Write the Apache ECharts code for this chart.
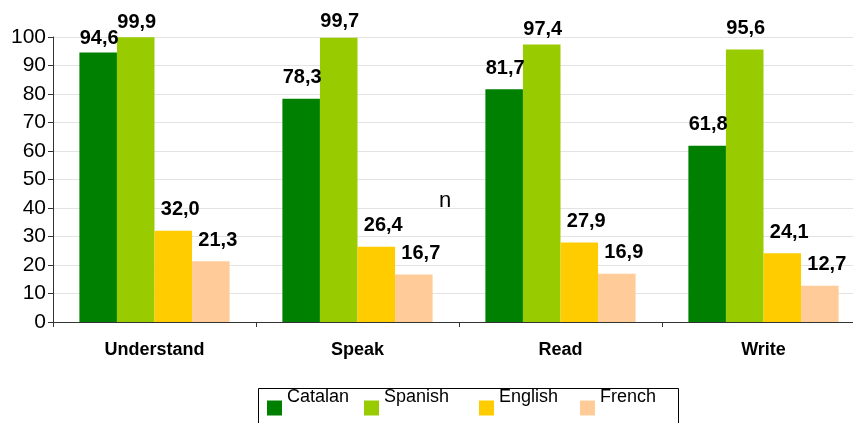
<!DOCTYPE html>
<html>
<head>
<meta charset="utf-8">
<script src="https://cdn.jsdelivr.net/npm/echarts@6/dist/echarts.min.js"></script>
<style>
  html, body { margin: 0; padding: 0; background: #fff; overflow: hidden; }
  #chart { width: 865px; height: 423px; }
</style>
</head>
<body>
<div id="chart"></div>
<script>
var categories = ['Understand', 'Speak', 'Read', 'Write'];
var seriesNames = ['Catalan', 'Spanish', 'English', 'French'];
var catalan = [94.6, 78.3, 81.7, 61.8];
var spanish = [99.9, 99.7, 97.4, 95.6];
var english = [32.0, 26.4, 27.9, 24.1];
var french = [21.3, 16.7, 16.9, 12.7];
var yTicks = [0, 10, 20, 30, 40, 50, 60, 70, 80, 90, 100];

// styling only: colours, label placement, legend spots
var colors = ['#008000', '#99cc00', '#ffcc00', '#ffcc99'];
var labelDistance = [
    [4, 11, 11, 11],
    [5, 6, 5, 11],
    [11, 11, 11, 11],
    [11, 11, 11, 11]
];
var labelShiftX = [1, 1, 7, 7];
var legendLeft = [267, 364, 479, 580];
var font = 'Liberation Sans, Arial, sans-serif';

var values = [catalan, spanish, english, french];
// the plot runs a little past the right edge of the window, as in the original
var chart = echarts.init(document.getElementById('chart'), null, { renderer: 'canvas' });

var series = seriesNames.map(function (name, i) {
    return {
        name: name,
        type: 'bar',
        barGap: '0%',
        barCategoryGap: '26%',
        itemStyle: { color: colors[i] },
        label: {
            show: true,
            position: 'top',
            offset: [labelShiftX[i], 0],
            color: '#000',
            fontFamily: font,
            fontWeight: 'bold',
            fontSize: 20,
            formatter: function (p) {
                return p.value.toFixed(1).replace('.', ',');
            }
        },
        data: values[i].map(function (v, j) {
            return { value: v, label: { distance: labelDistance[i][j] } };
        })
    };
});

var legends = seriesNames.map(function (name, i) {
    return {
        data: [name],
        left: legendLeft[i],
        top: 387,
        padding: 0,
        icon: 'rect',
        itemWidth: 15,
        itemHeight: 15,
        itemGap: 0,
        selectedMode: false,
        formatter: function (n) { return n + '\n '; },
        textStyle: {
            fontFamily: font,
            fontSize: 18,
            lineHeight: 21,
            color: '#000'
        }
    };
});

chart.setOption({
    animation: false,
    backgroundColor: '#fff',
    grid: { left: 53, right: 0, top: 37, bottom: 101 },
    legend: legends,
    xAxis: {
        type: 'category',
        data: categories,
        axisLine: { lineStyle: { color: '#333', width: 1 } },
        axisTick: { show: true, length: 5, lineStyle: { color: '#333' } },
        axisLabel: {
            margin: 19,
            color: '#000',
            fontFamily: font,
            fontWeight: 'bold',
            fontSize: 18
        }
    },
    yAxis: {
        type: 'value',
        min: yTicks[0],
        max: yTicks[yTicks.length - 1],
        interval: 10,
        axisLine: { show: true, lineStyle: { color: '#333', width: 1 } },
        axisTick: { show: true, length: 5, lineStyle: { color: '#333' } },
        splitLine: { lineStyle: { color: '#e3e3e3' } },
        axisLabel: {
            margin: 7,
            color: '#000',
            fontFamily: font,
            fontSize: 21
        }
    },
    graphic: [
        {
            type: 'rect',
            z: -1,
            shape: { x: 258.5, y: 388.5, width: 420, height: 50 },
            style: { fill: '#fff', stroke: '#000', lineWidth: 1 }
        },
        {
            type: 'text',
            left: 439,
            top: 190,
            style: { text: 'n', fontFamily: font, fontSize: 22, fill: '#000' }
        }
    ],
    series: series
});
</script>
</body>
</html>
